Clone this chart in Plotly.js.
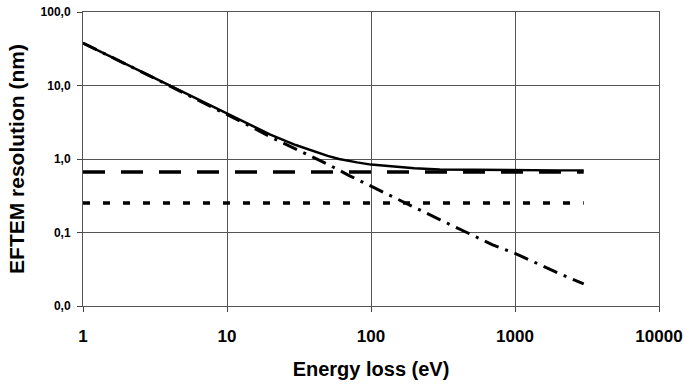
<!DOCTYPE html>
<html>
<head>
<meta charset="utf-8">
<script src="https://cdn.plot.ly/plotly-3.0.1.min.js"></script>
<style>html,body{margin:0;padding:0;background:#fff;}#chart{width:684px;height:388px;}</style>
</head>
<body>
<div id="chart"></div>
<script>
// Energy loss (eV)
const energyTotal = [1, 2, 3, 5, 7, 10, 15, 20, 30, 40, 50, 60, 70, 80, 100, 150, 200, 300, 500, 1000, 2000, 3000];
const totalRes    = [37.8, 19.5, 13.2, 8.0, 5.8, 4.15, 2.8, 2.15, 1.55, 1.27, 1.1, 1.0, 0.94, 0.9, 0.84, 0.78, 0.75, 0.72, 0.71, 0.70, 0.70, 0.70];
const energyDeloc = [1, 2, 3, 5, 7, 10, 15, 20, 30, 40, 50, 70, 100, 150, 200, 300, 500, 700, 1000, 1500, 2000, 3000];
const delocRes    = [37.8, 19.5, 13.1, 7.9, 5.7, 4.05, 2.7, 2.0, 1.36, 1.04, 0.85, 0.6, 0.43, 0.29, 0.22, 0.15, 0.093, 0.068, 0.052, 0.036, 0.028, 0.020];
const energyFlat  = [1, 3000];
const dashedRes   = [0.665, 0.665];
const dottedRes   = [0.252, 0.252];
const xTickVals = [1, 10, 100, 1000, 10000];
const xTickText = ["1", "10", "100", "1000", "10000"];
const yTickVals = [100, 10, 1, 0.1, 0.01];
const yTickText = ["100,0", "10,0", "1,0", "0,1", "0,0"];

const traces = [
  {x: energyDeloc, y: delocRes, mode: "lines", line: {color: "#000", width: 3, dash: "15px,7px,3px,7px"}},
  {x: energyFlat, y: dashedRes, mode: "lines", line: {color: "#000", width: 3.5, dash: "22px,16px"}},
  {x: energyFlat, y: dottedRes, mode: "lines", line: {color: "#000", width: 3.5, dash: "7px,13px"}},
  {x: energyTotal, y: totalRes, mode: "lines", line: {color: "#000", width: 2.4}}
];

const layout = {
  width: 684, height: 388,
  margin: {l: 83, r: 25, t: 12, b: 82},
  paper_bgcolor: "#fff", plot_bgcolor: "#fff",
  showlegend: false,
  font: {family: "Liberation Sans, Arial, sans-serif", color: "#000"},
  xaxis: {
    type: "log", range: [0, 4],
    tickvals: xTickVals, ticktext: xTickText,
    tickfont: {size: 17, weight: "bold", color: "#000"},
    ticks: "outside", ticklen: 5, tickcolor: "#444",
    ticklabelstandoff: 10,
    showgrid: true, gridcolor: "#555", gridwidth: 1,
    showline: true, linecolor: "#555", linewidth: 1, mirror: true,
    zeroline: false,
    title: {text: "Energy loss (eV)", font: {size: 20, weight: "bold", color: "#000"}, standoff: 16}
  },
  yaxis: {
    type: "log", range: [-2, 2],
    tickvals: yTickVals, ticktext: yTickText,
    tickfont: {size: 12, weight: "bold", color: "#000"},
    ticks: "outside", ticklen: 5, tickcolor: "#444",
    ticklabelstandoff: 4,
    showgrid: true, gridcolor: "#555", gridwidth: 1,
    showline: true, linecolor: "#555", linewidth: 1, mirror: true,
    zeroline: false,
    title: {text: "EFTEM resolution (nm)", font: {size: 21, weight: "bold", color: "#000"}, standoff: 10}
  }
};

Plotly.newPlot("chart", traces, layout, {staticPlot: true, displayModeBar: false});
</script>
</body>
</html>
